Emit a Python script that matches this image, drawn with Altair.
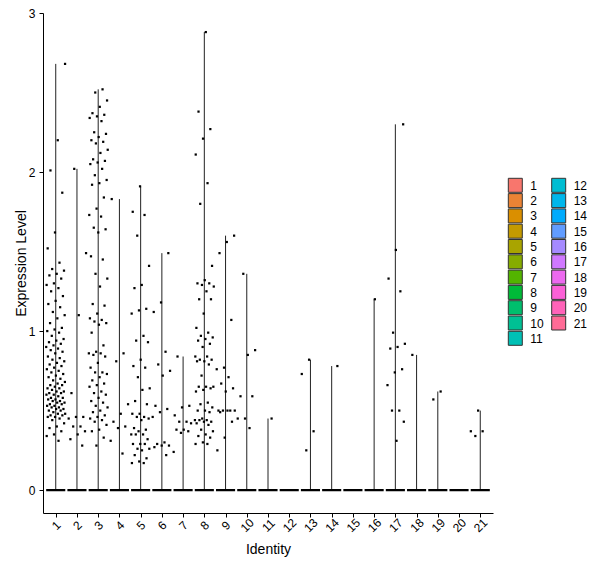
import math
import altair as alt
import pandas as pd

# ---- data (expression level per cell, non-zero cells only) ----
identities = list(range(1, 22))

expr_1 = [2.68, 2.20, 2.01, 1.87, 1.62, 1.52, 1.43, 1.39, 1.38, 1.36, 1.35, 1.33, 1.30, 1.29,
          1.27, 1.25, 1.22, 1.19, 1.17, 1.15, 1.12, 1.10, 1.08, 1.05, 1.02, 1.01, 1.00, 0.99,
          0.97, 0.95, 0.94, 0.93, 0.92, 0.91, 0.90, 0.89, 0.88, 0.87, 0.86, 0.84, 0.83, 0.82,
          0.81, 0.80, 0.79, 0.78, 0.77, 0.76, 0.75, 0.74, 0.73, 0.72, 0.71, 0.70, 0.69, 0.68,
          0.67, 0.66, 0.66, 0.65, 0.64, 0.64, 0.63, 0.62, 0.62, 0.61, 0.61, 0.60, 0.60, 0.59,
          0.58, 0.58, 0.57, 0.57, 0.56, 0.56, 0.55, 0.55, 0.54, 0.54, 0.53, 0.53, 0.52, 0.52,
          0.51, 0.51, 0.50, 0.50, 0.49, 0.48, 0.48, 0.47, 0.47, 0.46, 0.46, 0.45, 0.44, 0.42,
          0.40, 0.39, 0.37, 0.35, 0.34, 0.31]
expr_2 = [2.02, 1.49, 1.10, 0.61, 0.46, 0.46, 0.45, 0.40, 0.40, 0.37, 0.35, 0.32, 0.28]
expr_3 = [2.52, 2.50, 2.45, 2.41, 2.37, 2.36, 2.35, 2.34, 2.32, 2.25, 2.24, 2.22, 2.20, 2.19,
          2.18, 2.14, 2.12, 2.08, 2.07, 2.06, 2.05, 2.02, 1.98, 1.95, 1.93, 1.92, 1.84, 1.77,
          1.73, 1.72, 1.65, 1.64, 1.62, 1.47, 1.45, 1.36, 1.33, 1.28, 1.17, 1.16, 1.11, 1.08,
          1.07, 1.06, 1.05, 1.04, 0.99, 0.91, 0.87, 0.86, 0.86, 0.85, 0.84, 0.80, 0.77, 0.74,
          0.74, 0.73, 0.71, 0.69, 0.67, 0.66, 0.65, 0.62, 0.61, 0.60, 0.58, 0.56, 0.55, 0.53,
          0.52, 0.50, 0.49, 0.47, 0.46, 0.45, 0.44, 0.43, 0.41, 0.38, 0.37, 0.33, 0.28]
expr_4 = [1.83, 0.86, 0.81, 0.54, 0.48, 0.43, 0.40, 0.39, 0.31, 0.23]
expr_5 = [1.91, 1.75, 1.73, 1.60, 1.41, 1.29, 1.27, 1.14, 1.13, 1.11, 0.97, 0.94, 0.93, 0.82,
          0.78, 0.77, 0.71, 0.64, 0.63, 0.56, 0.54, 0.48, 0.48, 0.46, 0.46, 0.45, 0.44, 0.39,
          0.38, 0.37, 0.35, 0.35, 0.35, 0.32, 0.29, 0.29, 0.29, 0.26, 0.26, 0.25, 0.22, 0.20,
          0.18, 0.17, 0.17]
expr_6 = [1.49, 1.18, 1.12, 0.87, 0.79, 0.75, 0.72, 0.53, 0.51, 0.49, 0.46, 0.30, 0.29, 0.28,
          0.28, 0.27, 0.22]
expr_7 = [0.84, 0.53, 0.52, 0.47, 0.43, 0.43, 0.42, 0.38, 0.38, 0.37, 0.36, 0.24]
expr_8 = [2.88, 2.38, 2.27, 2.21, 2.11, 1.93, 1.80, 1.41, 1.32, 1.30, 1.30, 1.29, 1.28, 1.25,
          1.20, 1.20, 1.11, 1.02, 0.99, 0.97, 0.96, 0.95, 0.94, 0.92, 0.90, 0.84, 0.84, 0.82,
          0.82, 0.81, 0.81, 0.79, 0.72, 0.65, 0.65, 0.65, 0.64, 0.63, 0.62, 0.55, 0.54, 0.52,
          0.50, 0.50, 0.49, 0.45, 0.44, 0.44, 0.44, 0.43, 0.43, 0.42, 0.41, 0.38, 0.37, 0.35,
          0.34, 0.33, 0.30, 0.29, 0.29]
expr_9 = [1.60, 1.56, 1.49, 1.07, 0.77, 0.76, 0.71, 0.67, 0.64, 0.62, 0.50, 0.50, 0.50, 0.50,
          0.50, 0.49, 0.43, 0.33, 0.25]
expr_10 = [1.36, 0.88, 0.85, 0.59, 0.59, 0.45, 0.45, 0.39]
expr_11 = [0.45]
expr_12 = []
expr_13 = [0.82, 0.73, 0.37, 0.25]
expr_14 = [0.78]
expr_15 = []
expr_16 = [1.20]
expr_17 = [2.30, 1.51, 1.33, 1.25, 0.99, 0.92, 0.90, 0.89, 0.76, 0.74, 0.66, 0.50, 0.50, 0.43, 0.31]
expr_18 = [0.85]
expr_19 = [0.62, 0.57]
expr_20 = []
expr_21 = [0.50, 0.37, 0.37, 0.34]

expr_by_identity = [expr_1, expr_2, expr_3, expr_4, expr_5, expr_6, expr_7, expr_8, expr_9,
                    expr_10, expr_11, expr_12, expr_13, expr_14, expr_15, expr_16, expr_17,
                    expr_18, expr_19, expr_20, expr_21]

y_ticks = [0, 1, 2, 3]

# ---- ggplot default hue palette (hcl, c=100, l=65) ----
def hcl_hex(h, c=100.0, l=65.0):
    hr = math.radians(h)
    u, v = c * math.cos(hr), c * math.sin(hr)
    Xn, Yn, Zn = 95.047, 100.0, 108.883
    Y = Yn * ((l + 16) / 116) ** 3
    t = Xn + 15 * Yn + 3 * Zn
    up = u / (13 * l) + 4 * Xn / t
    vp = v / (13 * l) + 9 * Yn / t
    X = 9 * Y * up / (4 * vp)
    Z = 3 * Y / vp - X / 3 - 5 * Y
    X, Y, Z = X / 100, Y / 100, Z / 100
    rgb = [3.240479 * X - 1.537150 * Y - 0.498535 * Z,
           -0.969256 * X + 1.875992 * Y + 0.041556 * Z,
           0.055648 * X - 0.204043 * Y + 1.057311 * Z]
    out = []
    for ch in rgb:
        ch = 1.055 * ch ** (1 / 2.4) - 0.055 if ch > 0.00304 else 12.92 * ch
        out.append(int(round(255 * min(max(ch, 0.0), 1.0))))
    return "#%02X%02X%02X" % tuple(out)

n = len(identities)
labels = [str(i) for i in identities]
colors = [hcl_hex(15 + k * 360.0 / n) for k in range(n)]

# ---- tables ----
rows = []
for ident, vals in zip(identities, expr_by_identity):
    for k, val in enumerate(vals):
        jit = (((k + 1) * 0.6180339887 + ident * 0.37) % 1.0 - 0.5) * 0.9
        rows.append({"ident": ident, "value": val, "jit": jit})
pts = pd.DataFrame(rows)
pts["xpos"] = pts["ident"] + pts["jit"]

cats = pd.DataFrame({
    "ident": identities,
    "label": labels,
    "vmax": [max(v) if v else 0.0 for v in expr_by_identity],
})
cats["lo"] = cats["ident"] - 0.45
cats["hi"] = cats["ident"] + 0.45
cats["zero"] = 0.0

# legend grid: identities 1-11 in the first column, 12-21 in the second
leg = pd.DataFrame({
    "label": labels,
    "col": [k // 11 for k in range(n)],
    "row": [k % 11 for k in range(n)],
})

FONT = "Liberation Sans"
fill_scale = alt.Scale(domain=labels, range=colors)
xscale = alt.Scale(domain=[0.4, 21.6], nice=False, zero=False)
yscale = alt.Scale(domain=[-0.144, 3.0], nice=False, zero=False)
xaxis = alt.Axis(values=identities, format="d", labelAngle=315, labelAlign="center",
                 labelBaseline="middle", labelPadding=8, tickSize=4, grid=False,
                 labelOverlap=False, titleY=40, titleBaseline="alphabetic",
                 titleFontSize=14, titleFontWeight="normal")
yaxis = alt.Axis(values=y_ticks, format="d", tickSize=4, labelPadding=4, grid=False,
                 titleX=-18, titleBaseline="alphabetic", titleFontSize=14,
                 titleFontWeight="normal", titleAngle=270)

tails = alt.Chart(cats).mark_rule(color="#222222", strokeWidth=1).encode(
    x=alt.X("ident:Q", scale=xscale, axis=xaxis, title="Identity"),
    y=alt.Y("zero:Q", scale=yscale, axis=yaxis, title="Expression Level"),
    y2="vmax:Q",
)

base = alt.Chart(cats).mark_rect(stroke="black", strokeWidth=2.2).encode(
    x=alt.X("lo:Q", scale=xscale, axis=xaxis, title="Identity"),
    x2="hi:Q",
    y=alt.Y("zero:Q", scale=yscale, axis=yaxis, title="Expression Level"),
    y2="zero:Q",
    fill=alt.Fill("label:N", scale=fill_scale, legend=None),
)

points = alt.Chart(pts).mark_square(size=5, color="black", opacity=1).encode(
    x=alt.X("xpos:Q", scale=xscale, axis=xaxis, title="Identity"),
    y=alt.Y("value:Q", scale=yscale, axis=yaxis, title="Expression Level"),
)

main = alt.layer(tails, base, points)

# legend drawn as marks placed through their own (independent) scales, right of the plot
leg_x = alt.Scale(domain=[0, 1], range=[472.3, 515.7])
leg_y = alt.Scale(domain=[0, 10], range=[172.3, 325.3])
swatches = alt.Chart(leg).mark_square(size=196, filled=True, stroke="#333333",
                                      strokeWidth=1, opacity=1).encode(
    x=alt.X("col:Q", scale=leg_x, axis=None),
    y=alt.Y("row:Q", scale=leg_y, axis=None),
    fill=alt.Fill("label:N", scale=fill_scale, legend=None),
)
leg_text = alt.Chart(leg).mark_text(align="left", baseline="middle", dx=15, dy=0.5,
                                    fontSize=12, font=FONT, color="black").encode(
    x=alt.X("col:Q", scale=leg_x, axis=None),
    y=alt.Y("row:Q", scale=leg_y, axis=None),
    text="label:N",
)
legend = alt.layer(swatches, leg_text)

chart = alt.layer(main, legend).resolve_scale(
    x="independent", y="independent"
).properties(
    width=450, height=500,
    autosize=alt.AutoSizeParams(type="none"),
    padding={"left": 35, "top": 5, "right": 99, "bottom": 47},
).configure_view(stroke=None).configure_axis(
    domainColor="black", domainWidth=1, tickColor="black", tickWidth=1,
    labelColor="black", labelFontSize=12, labelFont=FONT, titleFont=FONT,
    titleColor="black",
).configure_axisX(labelOverlap=False)

chart.save("out.html", embed_options={"renderer": "svg", "actions": False})
